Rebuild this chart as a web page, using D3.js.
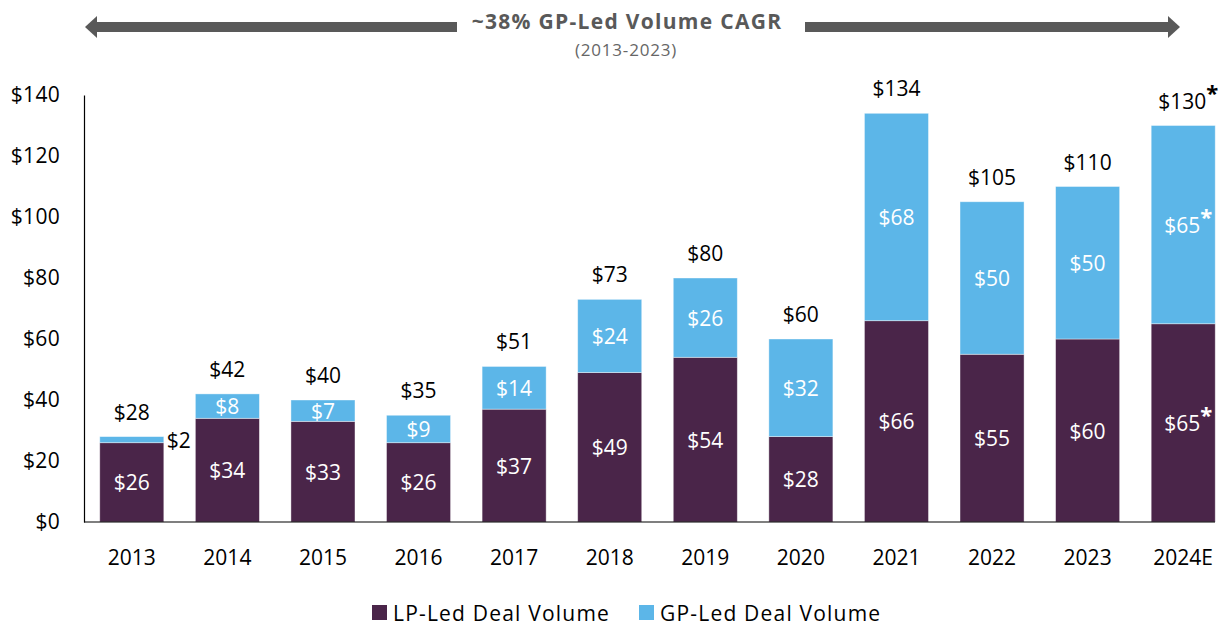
<!DOCTYPE html>
<html>
<head>
<meta charset="utf-8">
<script src="https://cdn.jsdelivr.net/npm/d3@7"></script>
<style>
  body { margin: 0; background: #fff; }
  svg { font-family: "Open Sans", "Noto Sans", sans-serif; }
</style>
</head>
<body>
<svg id="chart" width="1229" height="627"></svg>
<script>
// chart values
const years = ['2013', '2014', '2015', '2016', '2017', '2018', '2019', '2020', '2021', '2022', '2023', '2024E']
const lpLed = [26, 34, 33, 26, 37, 49, 54, 28, 66, 55, 60, 65]
const gpLed = [2, 8, 7, 9, 14, 24, 26, 32, 68, 50, 50, 65]
const totals = [28, 42, 40, 35, 51, 73, 80, 60, 134, 105, 110, 130]
const yTicks = [0, 20, 40, 60, 80, 100, 120, 140]
const estimated = ['2024E']

const purple = '#4a2549'
const blue = '#5cb6e8'
const grey = '#595959'
const font = '"Open Sans", "Noto Sans", sans-serif'

const svg = d3.select('#chart')

const x = d3.scaleBand().domain(years).range([84, 1231]).paddingInner(0.33).paddingOuter(0.165)
const y = d3.scaleLinear().domain([0, 140]).range([522, 95])

// y axis
const yAxis = svg.append('g').attr('transform', 'translate(84,0)')
  .call(d3.axisLeft(y).tickValues(yTicks).tickSize(0).tickPadding(24).tickFormat(d => '$' + d))
yAxis.attr('font-family', font)
yAxis.select('.domain').attr('stroke', '#000').attr('stroke-width', 1.2)
yAxis.selectAll('text').attr('font-size', 21).attr('fill', '#000').attr('letter-spacing', 0.3)

// bars
const rows = years.map((yr, i) => ({ yr, lp: lpLed[i], gp: gpLed[i], total: totals[i] }))
const bars = svg.append('g')
bars.selectAll('rect.lp').data(rows).join('rect')
  .attr('class', 'lp')
  .attr('x', d => x(d.yr)).attr('width', x.bandwidth())
  .attr('y', d => y(d.lp)).attr('height', d => y(0) - y(d.lp))
  .attr('fill', purple).attr('stroke', '#fff').attr('stroke-opacity', 0.5).attr('stroke-width', 0.8)
bars.selectAll('rect.gp').data(rows).join('rect')
  .attr('class', 'gp')
  .attr('x', d => x(d.yr)).attr('width', x.bandwidth())
  .attr('y', d => y(d.lp + d.gp)).attr('height', d => y(d.lp) - y(d.lp + d.gp))
  .attr('fill', blue).attr('stroke', '#fff').attr('stroke-opacity', 0.5).attr('stroke-width', 0.8)

// baseline
svg.append('line').attr('x1', 84).attr('x2', 1215).attr('y1', y(0)).attr('y2', y(0))
  .attr('stroke', '#000').attr('stroke-width', 1.2)

function addLabel(g, cx, cy, text, star, color, size) {
  const t = g.append('text').attr('x', cx).attr('y', cy).attr('text-anchor', 'middle')
    .attr('dominant-baseline', 'central').attr('font-size', size).attr('fill', color).text(text)
  if (star) {
    t.append('tspan').attr('dy', -9).attr('font-size', size * 1.05).attr('font-weight', 'bold').text('*')
  }
}

const labels = svg.append('g')
rows.forEach(d => {
  const cx = x(d.yr) + x.bandwidth() / 2
  const star = estimated.includes(d.yr)
  addLabel(labels, cx + (star ? 5 : 0), y(d.lp / 2), '$' + d.lp, star, '#fff', 21)
  if (d.gp >= 5) {
    addLabel(labels, cx + (star ? 5 : 0), y(d.lp + d.gp / 2), '$' + d.gp, star, '#fff', 21)
  } else {
    addLabel(labels, x(d.yr) + x.bandwidth() + 15, y(d.lp) - 3, '$' + d.gp, false, '#000', 21)
  }
  addLabel(labels, cx + (star ? 5 : 0), y(d.total) - 25, '$' + d.total, star, '#000', 21)
})

// x labels
svg.append('g').selectAll('text').data(years).join('text')
  .attr('x', d => x(d) + x.bandwidth() / 2).attr('y', 557)
  .attr('text-anchor', 'middle').attr('dominant-baseline', 'central')
  .attr('font-size', 21).attr('fill', '#000').text(d => d)

// CAGR arrow
const arrow = svg.append('g')
arrow.append('rect').attr('x', 95).attr('y', 22).attr('width', 362).attr('height', 10).attr('fill', grey)
arrow.append('path').attr('d', 'M85,27 L97,16 L97,38 Z').attr('fill', grey)
arrow.append('rect').attr('x', 805).attr('y', 22).attr('width', 365).attr('height', 10).attr('fill', grey)
arrow.append('path').attr('d', 'M1180,27 L1168,16 L1168,38 Z').attr('fill', grey)
arrow.append('text').attr('x', 627).attr('y', 21).attr('text-anchor', 'middle')
  .attr('dominant-baseline', 'central').attr('font-size', 21).attr('font-weight', 'bold')
  .attr('letter-spacing', 1.3).attr('fill', grey).text('~38% GP-Led Volume CAGR')
arrow.append('text').attr('x', 626).attr('y', 49).attr('text-anchor', 'middle')
  .attr('dominant-baseline', 'central').attr('font-size', 17).attr('letter-spacing', 0.8)
  .attr('fill', '#666').text('(2013-2023)')

// legend
const legend = svg.append('g')
const items = [{ name: 'LP-Led Deal Volume', color: purple, x: 372 }, { name: 'GP-Led Deal Volume', color: blue, x: 639 }]
items.forEach(it => {
  legend.append('rect').attr('x', it.x).attr('y', 605).attr('width', 15).attr('height', 15).attr('fill', it.color)
  legend.append('text').attr('x', it.x + 21).attr('y', 613).attr('dominant-baseline', 'central')
    .attr('font-size', 21).attr('letter-spacing', 1.2).attr('fill', '#000').text(it.name)
})
</script>
</body>
</html>
